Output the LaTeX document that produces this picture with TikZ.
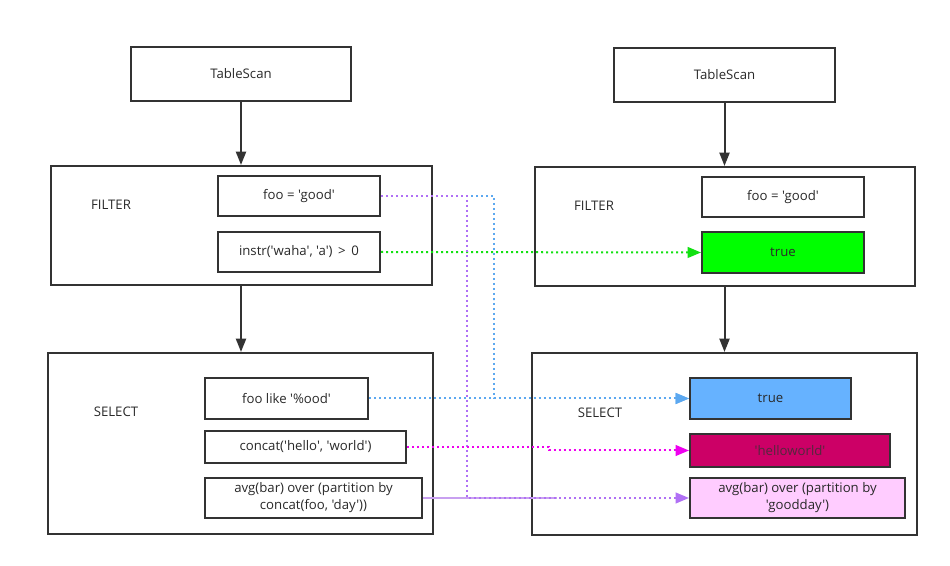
\documentclass[tikz,border=0pt]{standalone}
\usepackage{fontspec}
\setmainfont{Open Sans}[Ligatures=TeXOff]
\usepackage{xcolor}
\definecolor{qline}{HTML}{333333}
\definecolor{qgreen}{HTML}{00FF00}
\definecolor{qgreenline}{HTML}{11E011}
\definecolor{qblue}{HTML}{66B2FF}
\definecolor{qblueline}{HTML}{5CA8F0}
\definecolor{qmag}{HTML}{EE00EE}
\definecolor{qcrimson}{HTML}{CC0066}
\definecolor{qpink}{HTML}{FFCCFF}
\definecolor{qpurple}{HTML}{B070F5}
\definecolor{qpurplesolid}{HTML}{C8A0F0}
\usetikzlibrary{arrows.meta}

\begin{document}
\begin{tikzpicture}[x=0.75pt, y=-0.75pt,
    every node/.style={font=\fontsize{9.9}{12.75}\selectfont, text=qline!80!black},
    box/.style={draw=qline, line width=1.5pt, align=center, inner sep=0pt},
    arr/.style={-{Triangle[length=10pt, width=7.5pt]}, line width=1.5pt, qline},
    dotline/.style={line width=1.5pt, dash pattern=on 1.5pt off 2.25pt,
        -{Triangle[length=10pt, width=8pt]}}]

\useasboundingbox (0,0) rectangle (950,566);

% === Plan original (izquierda) ===
\node[box, minimum width=165pt, minimum height=40.5pt] (lts) at (241,74) {TableScan};
\node[box, minimum width=285.75pt, minimum height=89.25pt] (lfilt) at (241.5,225.5) {};
\node at (111,205) {FILTER};
\node[box, minimum width=121.5pt, minimum height=30pt] (lfoo) at (299,196) {foo = 'good'};
\node[box, minimum width=121.5pt, minimum height=30pt] (linstr) at (299,252) {instr('waha', 'a') \,>\, 0};

\node[box, minimum width=288.75pt, minimum height=135.75pt] (lsel) at (240.5,443.5) {};
\node at (116,412) {SELECT};
\node[box, minimum width=122.25pt, minimum height=30.75pt] (llike) at (286.5,398.5) {foo like '\%ood'};
\node[box, minimum width=150.75pt, minimum height=24pt] (lconcat) at (305.5,447) {concat('hello', 'world')};
\node[box, minimum width=162.75pt, minimum height=30pt] (lavg) at (313.5,498)
    {avg(bar) over (partition by\\concat(foo, 'day'))};

% === Plan optimizado (derecha) ===
\node[box, minimum width=165.75pt, minimum height=40.5pt] (rts) at (724.5,75) {TableScan};
\node[box, minimum width=285pt, minimum height=89.25pt] (rfilt) at (725,226.5) {};
\node at (594,206) {FILTER};
\node[box, minimum width=121.5pt, minimum height=30pt] (rfoo) at (783,197) {foo = 'good'};
\node[box, fill=qgreen, minimum width=121.5pt, minimum height=30.75pt] (rtrue) at (783,252.5) {true};

\node[box, minimum width=288.75pt, minimum height=136.5pt] (rsel) at (724.5,444) {};
\node at (600,413) {SELECT};
\node[box, fill=qblue, minimum width=120.75pt, minimum height=30.75pt] (rtrueb) at (770.5,398.5) {true};
\node[box, fill=qcrimson, minimum width=150pt, minimum height=24.75pt] (rhello) at (790,450.5)
    {\textcolor{qline!80!qcrimson}{'helloworld'}};
\node[box, fill=qpink, minimum width=161.25pt, minimum height=30pt] (ravg) at (797.5,498)
    {avg(bar) over (partition by\\'goodday')};

% === Flechas entre operadores ===
\draw[arr] (lts.south) -- (lts.south |- lfilt.north);
\draw[arr] (lts.south |- lfilt.south) -- (lts.south |- lsel.north);
\draw[arr] (rts.south) -- (rts.south |- rfilt.north);
\draw[arr] (rts.south |- rfilt.south) -- (rts.south |- rsel.north);

% === Puntos de quiebre ===
\coordinate (bluecol) at (494,300);
\coordinate (purpcol) at (467,350);
\coordinate (magstep) at (549,448.5);
\coordinate (avgmid) at (557,498);

% === Correspondencias (punteadas) ===
\draw[dotline, qgreenline] (linstr.east) -- (rtrue.west);
\draw[dotline, qblueline] (lfoo.east) -| (bluecol) |- (rtrueb.west);
\draw[dotline, qblueline] (llike.east) -- (rtrueb.west);
\draw[line width=1.5pt, qpurplesolid] (lavg.east) -- (avgmid);
\draw[dotline, qpurple] (lfoo.east) -| (purpcol) |- (ravg.west);
\draw[dotline, qmag] (lconcat.east) -| (magstep) |- (rhello.west);

\end{tikzpicture}
\end{document}
